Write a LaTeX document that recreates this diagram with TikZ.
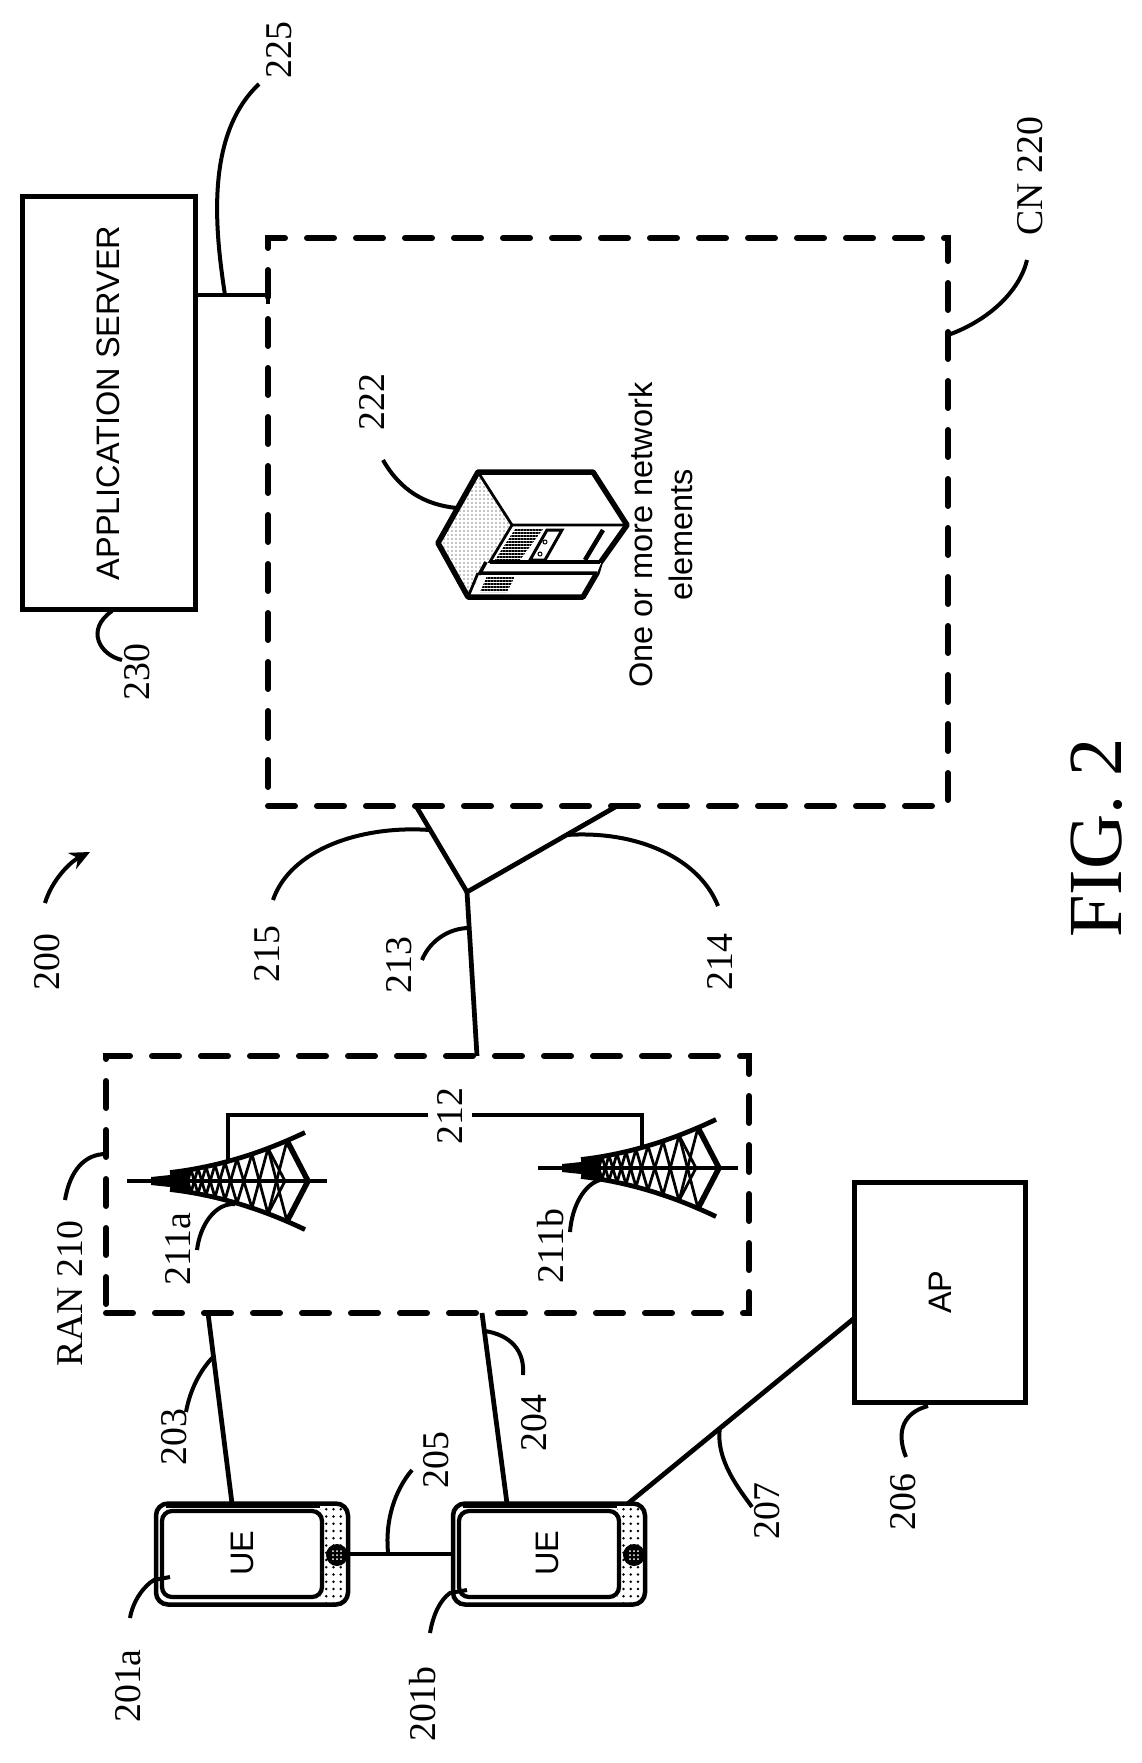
\documentclass[tikz,border=0pt]{standalone}
\usepackage{fontspec}
\setmainfont{Liberation Serif}
\setsansfont{Liberation Sans}
\usetikzlibrary{arrows.meta,patterns.meta}

\tikzset{
  declare function={towerh(\x)=6+0.00135*\x*\x;},
  numlabel/.style={font=\fontsize{21.5}{24}\selectfont, rotate=90},
  sanslabel/.style={font=\sffamily\fontsize{18.5}{22.6}\selectfont, rotate=90, align=center},
  plainbox/.style={draw, line width=1mm},
  dashbox/.style={draw, line width=1.2mm, line cap=round, dash pattern=on 5.4mm off 4.4mm},
  phonebody/.style={draw, line width=.9mm, rounded corners=2.4mm, fill=white, minimum width=38.4mm, minimum height=20.2mm},
  link/.style={line width=.95mm},
  leader/.style={line width=.8mm},
  vents/.style={pattern={Lines[angle=0, distance=.6mm, line width=.48mm]}},
  tower/.pic={
    \draw[line width=.8mm] (0,0) -- (200,0);
    \fill (24,-4) -- (43,-6) -- (45,-9) -- (62,-11) -- (62,11) -- (45,9) -- (43,6) -- (24,4) -- cycle;
    \draw[line width=.95mm] plot[domain=43:178, samples=30] (\x,{towerh(\x)});
    \draw[line width=.95mm] plot[domain=43:178, samples=30] (\x,{-towerh(\x)});
    \foreach \xa/\xb in {141/160,125/141,110/125,98/110,88/98,79/88,71/79,64/71,58/64,52/58,47/52} {
      \draw[line width=.55mm] (\xa,{towerh(\xa)}) -- (\xb,{-towerh(\xb)});
      \draw[line width=.55mm] (\xa,{-towerh(\xa)}) -- (\xb,{towerh(\xb)});
    }
    \draw[line width=.55mm] (141,{-towerh(141)}) -- (158,0) -- (141,{towerh(141)});
    \draw[line width=1.1mm] (160,{-towerh(160)}) -- (181,0) -- (160,{towerh(160)});
  },
}

\begin{document}
\begin{tikzpicture}[
  x=0.2mm, y=-0.2mm,
  every node/.style={inner sep=0pt, outer sep=0pt},
]
\useasboundingbox (0,0) rectangle (1142,1763);

% ── boxes ──
\node[plainbox, minimum width=34.7mm, minimum height=82.4mm] (appserver) at (109.2,403) {};
\node[sanslabel] (appservertxt) at (108,403) {APPLICATION SERVER};
\node[dashbox, minimum width=136mm, minimum height=113.6mm] (cn) at (608,522) {};
\node[dashbox, minimum width=128.6mm, minimum height=51.4mm] (ran) at (427.5,1184.5) {};
\node[plainbox, minimum width=34.2mm, minimum height=44mm] (ap) at (940,1292.5) {};
\node[sanslabel] (aptxt) at (940,1292) {AP};

% ── towers ──
\pic at (127,1181) {tower};
\pic at (538,1168) {tower};
\coordinate (towera) at (228,1160);
\coordinate (towerb) at (642,1148);
\coordinate (towerbus) at (450,1115);
\draw[link] (towera) |- (towerbus) -| (towerb);
\node[numlabel, fill=white, inner ysep=5.5pt] (lbl212) at (450,1116) {212};

% ── phones ──
\node[phonebody] (uea) at (252,1554) {};
\node[phonebody] (ueb) at (549,1554) {};
\foreach \ph in {uea,ueb} {
  \begin{scope}[shift={(\ph)}]
    \fill[pattern={Dots[distance=1.45mm, radius=.28mm]}] (68,-47) rectangle (94,48);
    \draw[line width=.5mm] (-86,-47) -- (68,-47);
    \draw[line width=.85mm, rounded corners=2mm, fill=white] (-90,-43) rectangle (70,43);
    \fill (85,1) circle (11);
    \foreach \dx/\dy in {-4/-4,0/-4,4/-4,-4/0,0/0,4/0,-4/4,0/4,4/4} {
      \fill[white] (85+\dx,1+\dy) circle (1);
    }
  \end{scope}
}
\node[sanslabel] (ueatxt) at (242,1553) {UE};
\node[sanslabel] (uebtxt) at (547,1553) {UE};

% ── server ──
\fill[pattern={Dots[distance=.8mm, radius=.11mm]}] (478,472) -- (438,543) -- (468,597) -- (512,525) -- cycle;
\draw[line width=1.1mm, line join=round] (478,472) -- (593,472) -- (627,525) -- (600,563) -- (597,573) -- (583,597) -- (468,597) -- (438,543) -- cycle;
\draw[line width=.55mm] (478,472) -- (512,525) -- (627,525);
\draw[line width=.55mm] (512,525) -- (488,565);
\draw[line width=.55mm] (478,573) -- (468,597);
\fill[white] (486,563) -- (601,563) -- (597,573) -- (480,573) -- cycle;
\draw[line width=.7mm] (490,562) -- (600,562);
\draw[line width=.7mm] (486,562) -- (480,573) -- (597,573);
\fill[vents] (515,529) -- (543,529) -- (520,560) -- (495,560) -- cycle;
\draw[line width=.6mm] (547,530) -- (562,530) -- (545,560) -- (530,560) -- cycle;
\draw[line width=.2mm] (545,542) circle (2) (540,554) circle (2);
\draw[line width=.9mm] (603,530) -- (585,560);
\fill[vents] (487,576) -- (515,576) -- (507,592) -- (480,592) -- cycle;
\node[sanslabel] (cntxt) at (661,535) {One or more network\\elements};

% ── connectors ──
\coordinate (cnlink) at (268,295);
\draw[link] (appserver.east |- cnlink) -- (cn.west |- cnlink);
\draw[link] (268,285) -- (268,304);
\coordinate (junc) at (467,892);
\coordinate (cnleft) at (416,806);
\coordinate (cnright) at (617,806);
\coordinate (ranup) at (477,1056);
\draw[link] (cn.south -| cnleft) -- (junc);
\draw[link] (cn.south -| cnright) -- (junc);
\draw[link] (junc) -- (ran.north -| ranup);
\coordinate (uealink) at (232,1503);
\coordinate (ueblink) at (507,1503);
\coordinate (ranlinka) at (208,1313);
\coordinate (ranlinkb) at (482,1313);
\draw[link] (ran.south -| ranlinka) -- (uea.north -| uealink);
\draw[link] (ran.south -| ranlinkb) -- (ueb.north -| ueblink);
\draw[link] (uea.east) -- (ueb.west);
\coordinate (uebap) at (628,1503);
\coordinate (apueb) at (853,1318);
\draw[link] (ueb.north -| uebap) -- (ap.west |- apueb);

% ── leaders ──
\draw[leader] (259,84) .. controls (205,135) and (215,230) .. (225,295);
\draw[leader] (1027,260) .. controls (1020,290) and (990,320) .. (948,335);
\draw[leader] (383,460) .. controls (400,490) and (425,505) .. (457,508);
\draw[leader] (112,611) .. controls (85,630) and (100,655) .. (122,660);
\draw[leader, -{Stealth[length=4mm, width=3.6mm]}] (45,903) .. controls (52,880) and (70,862) .. (90,852);
\draw[leader] (273,900) .. controls (290,850) and (360,825) .. (430,830);
\draw[leader] (718,906) .. controls (700,860) and (640,830) .. (566,835);
\draw[leader] (422,960) .. controls (430,940) and (450,928) .. (469,928);
\draw[leader] (65,1200) .. controls (70,1170) and (85,1154) .. (106,1154);
\draw[leader] (197,1250) .. controls (200,1225) and (215,1203) .. (235,1204);
\draw[leader] (570,1232) .. controls (572,1205) and (585,1184) .. (600,1180);
\draw[leader] (186,1412) .. controls (190,1390) and (200,1370) .. (214,1356);
\draw[leader] (523,1375) .. controls (525,1350) and (510,1335) .. (485,1331);
\draw[leader] (412,1470) .. controls (395,1490) and (385,1520) .. (388,1552);
\draw[leader] (752,1507) .. controls (740,1490) and (715,1460) .. (720,1427);
\draw[leader] (906,1457) .. controls (895,1430) and (905,1412) .. (928,1406);
\draw[leader] (130,1618) .. controls (133,1600) and (145,1585) .. (154,1580) -- (170,1577);
\draw[leader] (430,1633) .. controls (433,1615) and (440,1600) .. (450,1593) -- (467,1590);

% ── labels ──
\node[numlabel] (lbl225) at (279,50) {225};
\node[numlabel] (lbl220) at (1030,176) {CN 220};
\node[numlabel] (lbl222) at (372,402) {222};
\node[numlabel] (lbl230) at (137,672) {230};
\node[numlabel] (lbl200) at (47,962) {200};
\node[numlabel] (lbl215) at (267,954) {215};
\node[numlabel] (lbl213) at (399,965) {213};
\node[numlabel] (lbl214) at (720,962) {214};
\node[numlabel] (lbl210) at (70,1294) {RAN 210};
\node[numlabel] (lbl211a) at (178,1249) {211a};
\node[numlabel] (lbl211b) at (551,1246) {211b};
\node[numlabel] (lbl203) at (174,1437) {203};
\node[numlabel] (lbl204) at (534,1423) {204};
\node[numlabel] (lbl205) at (436,1460) {205};
\node[numlabel] (lbl207) at (767,1511) {207};
\node[numlabel] (lbl206) at (903,1502) {206};
\node[numlabel] (lbl201a) at (128,1686) {201a};
\node[numlabel] (lbl201b) at (423,1704) {201b};
\node[font=\fontsize{43.5}{46}\selectfont, rotate=90] (figlbl) at (1097,838) {FIG. 2};

\end{tikzpicture}
\end{document}
